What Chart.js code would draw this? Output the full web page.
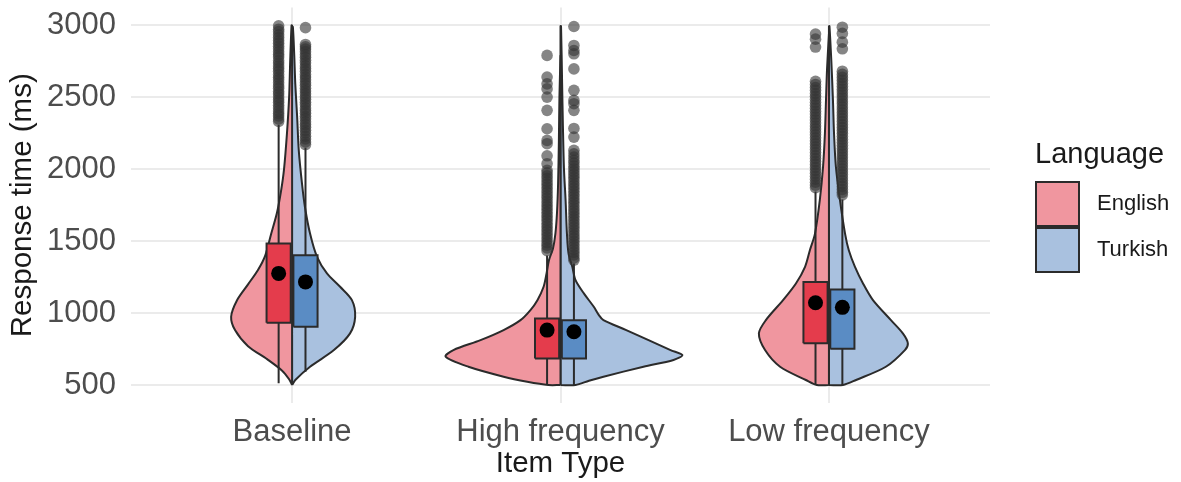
<!DOCTYPE html>
<html><head><meta charset="utf-8">
<script src="https://cdn.jsdelivr.net/npm/chart.js@4.4.1/dist/chart.umd.min.js"></script>
<style>html,body{margin:0;padding:0;background:#fff;overflow:hidden}</style>
</head><body>
<canvas id="c" width="1181" height="482"></canvas>
<script>
// ---------- DATA ----------
const categories = ['Baseline', 'High frequency', 'Low frequency'];
const languages = ['English', 'Turkish'];
const yMajorTicks = [500, 1000, 1500, 2000, 2500, 3000];
const yMinorTicks = [750, 1250, 1750, 2250, 2750];

// Violin profiles: response-time levels (ms) and half-width (x units)
const violinBaselineEnglishY = [500, 540, 600, 680, 770, 880, 975, 1090, 1200, 1300, 1400, 1550, 1700, 1850, 2000, 2250, 2500, 2750, 3000];
const violinBaselineEnglishW = [0, 0.011, 0.037, 0.093, 0.164, 0.212, 0.227, 0.205, 0.164, 0.127, 0.100, 0.078, 0.056, 0.041, 0.030, 0.019, 0.011, 0.007, 0.002];
const violinBaselineTurkishY = [500, 535, 627, 743, 859, 974, 1090, 1183, 1276, 1391, 1553, 1738, 1900, 2132, 2363, 2594, 2800, 2990];
const violinBaselineTurkishW = [0, 0.012, 0.067, 0.156, 0.216, 0.235, 0.223, 0.179, 0.130, 0.093, 0.067, 0.048, 0.037, 0.025, 0.019, 0.012, 0.008, 0.003];
const violinHighEnglishY = [500, 523, 558, 627, 697, 743, 812, 882, 951, 1021, 1090, 1183, 1276, 1368, 1450, 1553, 1700, 1900, 2200, 2500, 2790];
const violinHighEnglishW = [0.045, 0.124, 0.212, 0.343, 0.428, 0.399, 0.298, 0.212, 0.149, 0.112, 0.086, 0.063, 0.052, 0.043, 0.028, 0.019, 0.013, 0.009, 0.006, 0.004, 0];
const violinHighTurkishY = [500, 530, 558, 627, 674, 708, 743, 812, 882, 951, 986, 1044, 1137, 1229, 1322, 1414, 1553, 1785, 2000, 2300, 2600, 2995];
const violinHighTurkishW = [0.056, 0.106, 0.160, 0.309, 0.421, 0.454, 0.410, 0.328, 0.245, 0.160, 0.143, 0.124, 0.087, 0.056, 0.044, 0.030, 0.024, 0.019, 0.013, 0.009, 0.006, 0.002];
const violinLowEnglishY = [500, 535, 627, 743, 858, 951, 1090, 1206, 1322, 1437, 1553, 1785, 2016, 2248, 2479, 2700, 2940];
const violinLowEnglishW = [0.045, 0.086, 0.182, 0.238, 0.261, 0.235, 0.171, 0.123, 0.089, 0.071, 0.052, 0.034, 0.022, 0.015, 0.011, 0.007, 0];
const violinLowTurkishY = [500, 535, 627, 743, 790, 858, 951, 1090, 1206, 1322, 1437, 1553, 1785, 2016, 2248, 2479, 2750, 2995];
const violinLowTurkishW = [0.052, 0.101, 0.212, 0.283, 0.294, 0.276, 0.231, 0.164, 0.127, 0.097, 0.074, 0.060, 0.041, 0.026, 0.019, 0.015, 0.009, 0.002];

// Box-plot statistics per category (Baseline, High frequency, Low frequency)
const q1English = [933, 685, 790];
const q3English = [1484, 963, 1217];
const whiskerLowEnglish = [513, 500, 500];
const whiskerHighEnglish = [2310, 1400, 1845];
const meanEnglish = [1276, 882, 1072];
const q1Turkish = [905, 685, 752];
const q3Turkish = [1403, 951, 1165];
const whiskerLowTurkish = [592, 500, 500];
const whiskerHighTurkish = [2150, 1345, 1790];
const meanTurkish = [1217, 870, 1040];

// Outliers (ms)
const outliersBaselineEnglish = [2333, 2350, 2371, 2388, 2406, 2427, 2445, 2466, 2483, 2502, 2524, 2541, 2563, 2580, 2601, 2622, 2640, 2659, 2681, 2700, 2718, 2739, 2757, 2780, 2798, 2817, 2838, 2856, 2877, 2895, 2916, 2935, 2957, 2974, 2998];
const outliersBaselineTurkish = [2172, 2190, 2211, 2230, 2253, 2271, 2292, 2311, 2330, 2352, 2369, 2390, 2408, 2427, 2449, 2466, 2487, 2505, 2526, 2545, 2563, 2584, 2602, 2623, 2641, 2660, 2681, 2700, 2719, 2740, 2758, 2779, 2797, 2818, 2836, 2852, 2868, 2985];
const outliersHighEnglish = [2792, 2641, 2594, 2559, 2502, 2410, 2282, 2201, 2178, 2094, 2039, 1993, 1975, 1955, 1936, 1915, 1896, 1877, 1858, 1838, 1818, 1800, 1779, 1760, 1741, 1722, 1702, 1683, 1664, 1645, 1625, 1606, 1587, 1568, 1548, 1529, 1510, 1490, 1472, 1453, 1434];
const outliersHighTurkish = [2993, 2861, 2826, 2803, 2698, 2549, 2479, 2456, 2410, 2284, 2224, 2132, 2108, 2085, 2062, 2043, 2022, 2003, 1984, 1964, 1945, 1926, 1906, 1887, 1868, 1848, 1829, 1810, 1790, 1771, 1752, 1732, 1713, 1694, 1674, 1655, 1636, 1616, 1597, 1578, 1558, 1539, 1520, 1500, 1481, 1462, 1442, 1423, 1404, 1384, 1368];
const outliersLowEnglish = [2940, 2905, 2850, 2612, 2590, 2568, 2549, 2527, 2508, 2487, 2466, 2446, 2425, 2404, 2384, 2363, 2343, 2322, 2301, 2281, 2260, 2240, 2219, 2198, 2178, 2157, 2137, 2116, 2095, 2075, 2054, 2034, 2013, 1992, 1972, 1951, 1931, 1910, 1890, 1872];
const outliersLowTurkish = [2988, 2945, 2884, 2838, 2682, 2660, 2639, 2619, 2598, 2578, 2557, 2537, 2516, 2496, 2475, 2455, 2434, 2414, 2393, 2373, 2352, 2332, 2311, 2291, 2270, 2250, 2229, 2209, 2188, 2168, 2147, 2127, 2106, 2086, 2065, 2045, 2024, 2004, 1983, 1963, 1942, 1922, 1901, 1881, 1860, 1840, 1822];

// ---------- STYLE ----------
const FONT = "'Liberation Sans', Arial, Helvetica, sans-serif";
const violinColors = ['#F0969F', '#A9C1DF'];
const boxColors = ['#E43C4C', '#5A8CC4'];
const outline = '#2b2b2b';
const LW = 2;
const DODGE = 0.05, BOX_HALF = 0.045;

Chart.defaults.font.family = FONT;

const violinSets = [
  [[violinBaselineEnglishY, violinBaselineEnglishW], [violinBaselineTurkishY, violinBaselineTurkishW]],
  [[violinHighEnglishY, violinHighEnglishW], [violinHighTurkishY, violinHighTurkishW]],
  [[violinLowEnglishY, violinLowEnglishW], [violinLowTurkishY, violinLowTurkishW]]
];
const boxStats = [
  {q1: q1English, q3: q3English, lo: whiskerLowEnglish, hi: whiskerHighEnglish, mean: meanEnglish},
  {q1: q1Turkish, q3: q3Turkish, lo: whiskerLowTurkish, hi: whiskerHighTurkish, mean: meanTurkish}
];
const outlierSets = [
  [outliersBaselineEnglish, outliersBaselineTurkish],
  [outliersHighEnglish, outliersHighTurkish],
  [outliersLowEnglish, outliersLowTurkish]
];

const datasets = [];
categories.forEach((cat, ci) => {
  const c = ci + 1;
  languages.forEach((lang, li) => {
    const side = li === 0 ? -1 : 1;
    const [ys, ws] = violinSets[ci][li];
    const pts = [{x: c, y: ys[0]}];
    ys.forEach((y, i) => pts.push({x: c + side * ws[i], y}));
    pts.push({x: c, y: ys[ys.length - 1]});
    pts.push({x: c, y: ys[0]});
    datasets.push({
      type: 'line', label: lang + ' violin ' + cat, data: pts, showLine: true,
      borderColor: outline, borderWidth: LW, backgroundColor: violinColors[li],
      fill: 'shape', tension: 0.3, pointRadius: 0, borderJoinStyle: 'round', order: 6
    });
    const bx = c + side * DODGE;
    const s = boxStats[li];
    datasets.push({
      type: 'line', label: lang + ' whisker ' + cat,
      data: [{x: bx, y: s.lo[ci]}, {x: bx, y: s.hi[ci]}], showLine: true,
      borderColor: outline, borderWidth: LW, fill: false, tension: 0, pointRadius: 0, order: 5
    });
    datasets.push({
      type: 'line', label: lang + ' box ' + cat,
      data: [{x: bx - BOX_HALF, y: s.q1[ci]}, {x: bx + BOX_HALF, y: s.q1[ci]}, {x: bx + BOX_HALF, y: s.q3[ci]}, {x: bx - BOX_HALF, y: s.q3[ci]}, {x: bx - BOX_HALF, y: s.q1[ci]}],
      showLine: true, borderColor: outline, borderWidth: LW, backgroundColor: boxColors[li],
      fill: 'shape', tension: 0, pointRadius: 0, order: 4
    });
    datasets.push({
      type: 'scatter', label: lang + ' outliers ' + cat,
      data: outlierSets[ci][li].map(y => ({x: bx, y})),
      pointRadius: 5.8, pointBackgroundColor: 'rgba(51,51,51,0.6)', pointBorderWidth: 0, order: 3
    });
    datasets.push({
      type: 'scatter', label: lang + ' mean ' + cat,
      data: [{x: bx, y: s.mean[ci]}],
      pointRadius: 7.5, pointBackgroundColor: '#000', pointBorderWidth: 0, order: 1
    });
  });
});

const legendPlugin = {
  id: 'ggLegend',
  afterDraw(chart) {
    const ctx = chart.ctx;
    const x0 = chart.chartArea.right + 46;
    ctx.save();
    ctx.textBaseline = 'middle';
    ctx.textAlign = 'left';
    ctx.fillStyle = '#1a1a1a';
    ctx.font = '29px ' + FONT;
    ctx.fillText('Language', x0 - 1, 155);
    languages.forEach((lang, i) => {
      const y = 182 + i * 46;
      ctx.fillStyle = violinColors[i];
      ctx.fillRect(x0, y, 43, 44);
      ctx.strokeStyle = outline; ctx.lineWidth = LW;
      ctx.strokeRect(x0, y, 43, 44);
      ctx.fillStyle = '#1a1a1a';
      ctx.font = '22px ' + FONT;
      ctx.fillText(lang, x0 + 61, y + 22);
    });
    ctx.restore();
  }
};

new Chart(document.getElementById('c'), {
  type: 'scatter',
  data: {datasets},
  plugins: [legendPlugin],
  options: {
    responsive: false, animation: false, devicePixelRatio: 1, events: [],
    layout: {padding: {top: 7, right: 191, left: 0, bottom: 0}},
    plugins: {legend: {display: false}, tooltip: {enabled: false}},
    scales: {
      x: {
        type: 'linear', min: 0.4, max: 3.6,
        afterBuildTicks: s => { s.ticks = categories.map((_, i) => ({value: i + 1})); },
        afterFit: s => { s.height = 79; s.paddingLeft = 0; s.paddingRight = 0; },
        ticks: {callback: v => categories[Math.round(v) - 1], font: {size: 31}, color: '#4D4D4D', padding: 11, maxRotation: 0, autoSkip: false},
        grid: {color: '#EBEBEB', lineWidth: 2, drawTicks: false},
        border: {display: false},
        title: {display: true, text: 'Item Type', font: {size: 29.5}, color: '#1a1a1a', padding: {top: 0, bottom: 0}}
      },
      y: {
        type: 'linear', min: 375, max: 3125,
        afterBuildTicks: s => { s.ticks = yMajorTicks.concat(yMinorTicks).sort((a, b) => a - b).map(v => ({value: v})); },
        afterFit: s => { s.width = 131; s.paddingTop = 0; s.paddingBottom = 0; },
        ticks: {callback: v => yMajorTicks.includes(v) ? String(v) : '', font: {size: 31}, color: '#4D4D4D', padding: 15},
        grid: {
          color: c => (c.tick && yMajorTicks.includes(c.tick.value)) ? '#EBEBEB' : '#F3F3F3',
          lineWidth: c => (c.tick && yMajorTicks.includes(c.tick.value)) ? 2 : 1.2,
          drawTicks: false
        },
        border: {display: false},
        title: {display: true, text: 'Response time (ms)', font: {size: 29.5}, color: '#1a1a1a', padding: {top: 5, bottom: 0}}
      }
    }
  }
});
</script>
</body></html>
